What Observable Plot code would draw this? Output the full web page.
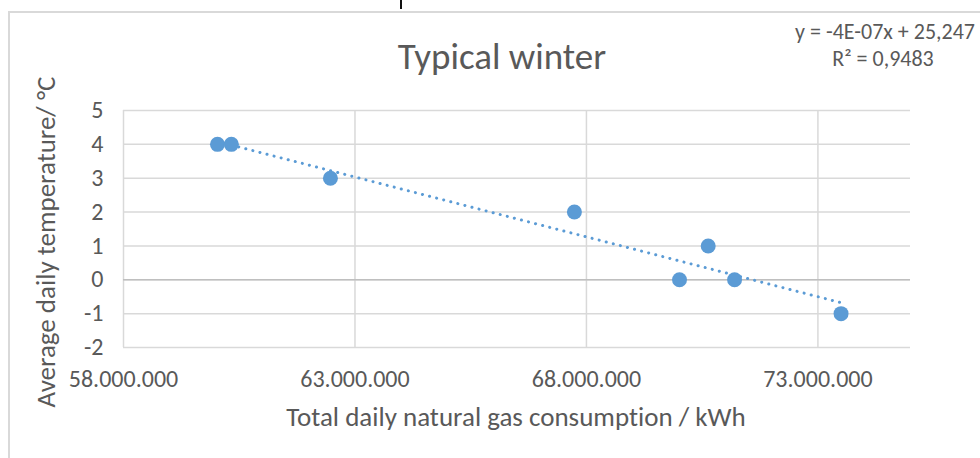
<!DOCTYPE html>
<html>
<head>
<meta charset="utf-8">
<script src="https://cdn.jsdelivr.net/npm/d3@7"></script>
<script src="https://cdn.jsdelivr.net/npm/@observablehq/plot@0.6"></script>
<style>
  html, body { margin: 0; padding: 0; background: #fff; }
  #wrap { position: relative; width: 980px; height: 458px; overflow: hidden;
          font-family: Carlito, Lato, sans-serif; color: #595959;
          font-variant-ligatures: none; }
  #wrap svg text { font-variant-ligatures: none; }
  #frame { position: absolute; left: 8px; top: 11px; width: 990px; height: 460px;
           border-left: 2px solid #d9d9d9; border-top: 2px solid #d9d9d9; box-sizing: border-box; }
  #chart { position: absolute; left: 0; top: 0; }
  #cut { position: absolute; left: 400px; top: 0; width: 2px; height: 9px; background: #111; }
  .lbl { position: absolute; white-space: nowrap; line-height: 0.9; }
  #title { left: 502px; top: 57px; transform: translate(-50%, -50%); font-size: 37px; }
  #eq1 { right: 5px; top: 32px; transform: translateY(-50%); font-size: 22px; }
  #eq2 { left: 883px; top: 59px; transform: translate(-50%, -50%); font-size: 22px; }
  #xlab { left: 516px; top: 417px; transform: translate(-50%, -50%); font-size: 27px; }
  #ylab { left: 46px; top: 242px; transform: translate(-50%, -50%) rotate(-90deg); font-size: 27px; }
</style>
</head>
<body>
<div id="wrap">
  <div id="frame"></div>
  <div id="cut"></div>
  <div id="chart"></div>
  <div class="lbl" id="title">Typical winter</div>
  <div class="lbl" id="eq1">y = -4E-07x + 25,247</div>
  <div class="lbl" id="eq2">R² = 0,9483</div>
  <div class="lbl" id="xlab">Total daily natural gas consumption / kWh</div>
  <div class="lbl" id="ylab">Average daily temperature/ °C</div>
</div>
<script>
// Data
const gasConsumption = [60030000, 60330000, 62470000, 67740000, 70010000, 70630000, 71200000, 73500000];
const avgTemperature = [4, 4, 3, 2, 0, 1, 0, -1];
const xTicks = [58000000, 63000000, 68000000, 73000000];
const yTicks = [-2, -1, 0, 1, 2, 3, 4, 5];
const xDomain = [58000000, 75000000];
const yDomain = [-2, 5];

const points = gasConsumption.map((x, i) => ({x, y: avgTemperature[i]}));
const fmtX = d3.formatLocale({decimal: ",", thousands: ".", grouping: [3], currency: ["", ""]}).format(",.0f");
const fmtY = d => String(d);

const blue = "#5b9bd5";
const grid = "#d9d9d9";
const font = getComputedStyle(document.getElementById("wrap")).fontFamily;

const chart = Plot.plot({
  width: 980,
  height: 458,
  marginLeft: 123,
  marginRight: 70,
  marginTop: 110,
  marginBottom: 111,
  style: {fontFamily: font, color: "#595959", background: "transparent", overflow: "visible"},
  x: {domain: xDomain},
  y: {domain: yDomain},
  marks: [
    Plot.gridY(yTicks, {stroke: grid, strokeOpacity: 1, strokeWidth: 1.5}),
    Plot.gridX(xTicks, {stroke: grid, strokeOpacity: 1, strokeWidth: 1.5}),
    Plot.ruleY([0], {stroke: "#bfbfbf", strokeWidth: 1.5}),
    Plot.linearRegressionY(points, {x: "x", y: "y", ci: 0, stroke: blue, strokeWidth: 3,
      strokeDasharray: "0.1,7.2", strokeLinecap: "round"}),
    Plot.dot(points, {x: "x", y: "y", r: 7.5, fill: blue, stroke: null}),
    Plot.axisX(xTicks, {tickSize: 0, tickPadding: 22, tickFormat: fmtX, fontSize: 24, label: null, fill: "#595959"}),
    Plot.axisY(yTicks, {tickSize: 0, tickPadding: 20, tickFormat: fmtY, fontSize: 24, label: null, fill: "#595959"})
  ]
});
document.getElementById("chart").appendChild(chart);
</script>
</body>
</html>
